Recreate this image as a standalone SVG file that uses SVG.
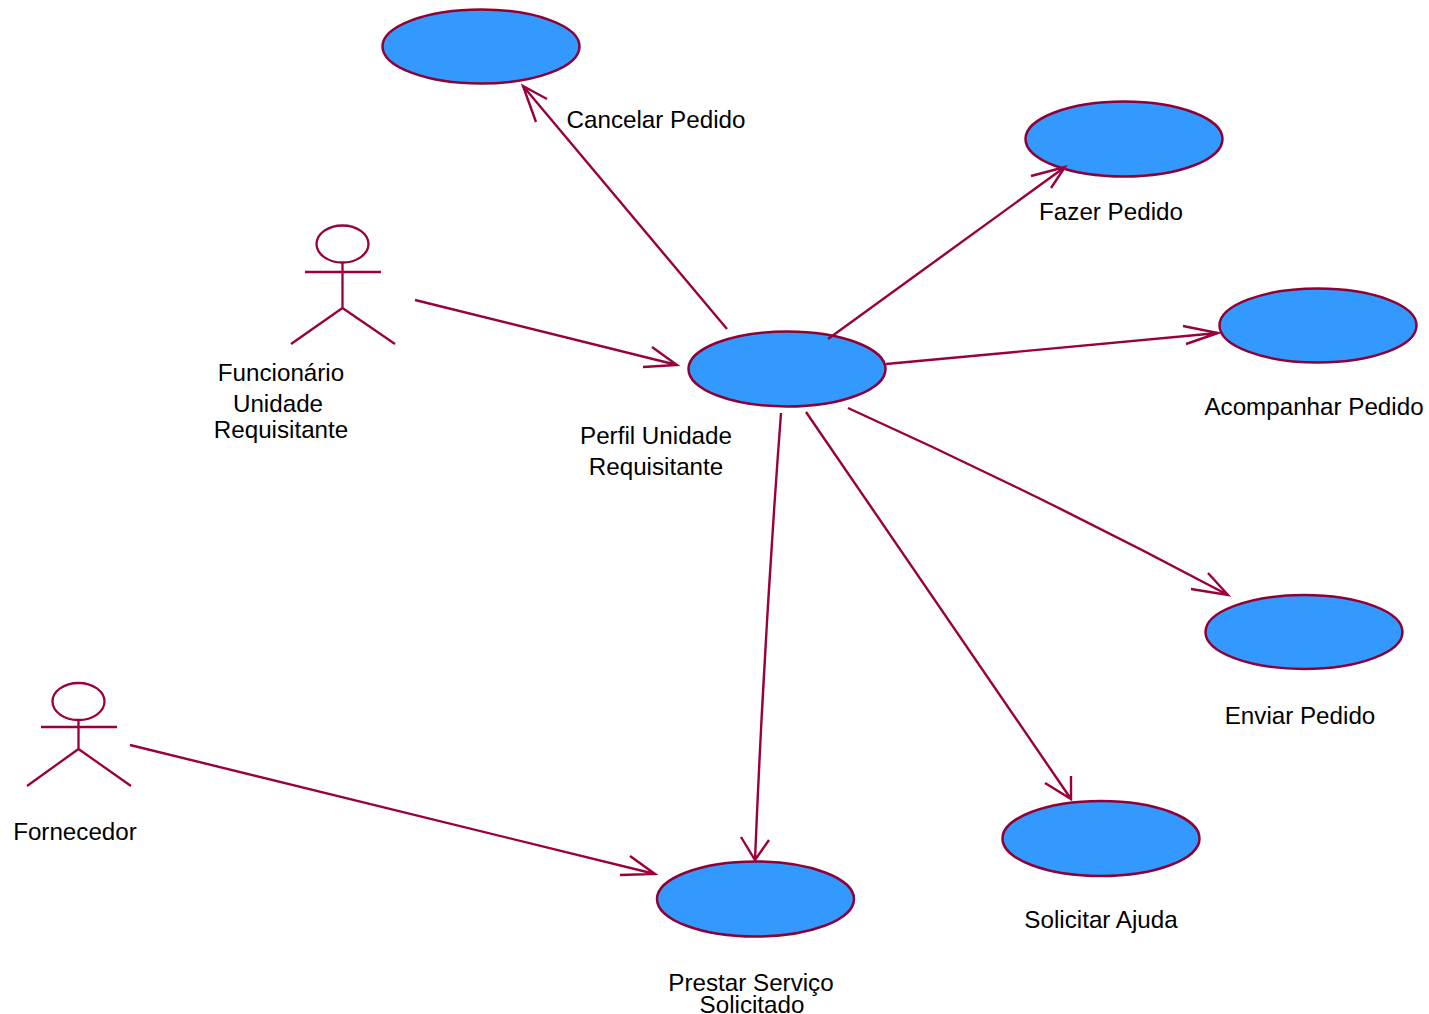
<svg xmlns="http://www.w3.org/2000/svg" width="1429" height="1014" viewBox="0 0 1429 1014">
<style>
.uc{fill:#3399ff;stroke:#8f0035;stroke-width:2.500}
.ln{fill:none;stroke:#99003d;stroke-width:2.400}
.ac{fill:none;stroke:#99003d;stroke-width:2.300}
text{font-family:"Liberation Sans",Arial,sans-serif;font-size:24.200px;fill:#000;text-anchor:middle}
</style>
<rect width="1429" height="1014" fill="#fff"/>
<g id="cancelar"><ellipse class="uc" cx="481" cy="46.500" rx="98.500" ry="37"/><text x="656" y="128">Cancelar Pedido</text></g>
<g id="fazer"><ellipse class="uc" cx="1124" cy="139" rx="98.500" ry="37.500"/><text x="1111" y="220">Fazer Pedido</text></g>
<g id="acompanhar"><ellipse class="uc" cx="1318" cy="325.500" rx="98.500" ry="37"/><text x="1314" y="415">Acompanhar Pedido</text></g>
<g id="perfil"><ellipse class="uc" cx="787" cy="369" rx="98.500" ry="37.500"/><text x="656" y="444">Perfil Unidade</text><text x="656" y="475">Requisitante</text></g>
<g id="enviar"><ellipse class="uc" cx="1304" cy="632" rx="98.500" ry="37"/><text x="1300" y="724">Enviar Pedido</text></g>
<g id="ajuda"><ellipse class="uc" cx="1101" cy="838.500" rx="98.500" ry="37.500"/><text x="1101" y="928">Solicitar Ajuda</text></g>
<g id="prestar"><ellipse class="uc" cx="755.500" cy="899" rx="98.500" ry="37.500"/><text x="751" y="991">Prestar Serviço</text><text x="752" y="1013">Solicitado</text></g>
<g id="funcionario"><ellipse class="ac" cx="342.500" cy="244" rx="26" ry="18.500"/><path class="ac" d="M342.500 262.500V308M305 272H381M342.500 308L291 344M342.500 308L395 344"/><text x="281" y="381">Funcionário</text><text x="278" y="412">Unidade</text><text x="281" y="438">Requisitante</text></g>
<g id="fornecedor"><ellipse class="ac" cx="78.500" cy="701.500" rx="26" ry="18.500"/><path class="ac" d="M78.500 720V749M41 727H117M78.500 749L27 786M78.500 749L131 786"/><text x="75" y="840">Fornecedor</text></g>
<g id="connectors">
<path class="ln" d="M727 329L523 86M536 122L523 86L547 99"/>
<path class="ln" d="M828 339L1065 167M1031 176L1065 167L1051 188"/>
<path class="ln" d="M886 364L1218 333M1183 326L1218 333L1186 344"/>
<path class="ln" d="M848 408Q1040 495 1228 595M1208 573L1228 595L1191 589"/>
<path class="ln" d="M806 412L1071 799M1045 783L1071 799L1071 776"/>
<path class="ln" d="M781 413Q764 640 755 860M741 837L755 860L769 840"/>
<path class="ln" d="M415 300L677 365M652 347L677 365L643 367"/>
<path class="ln" d="M130 745L655 874M630 856L655 874L620 875"/>
</g>
</svg>
